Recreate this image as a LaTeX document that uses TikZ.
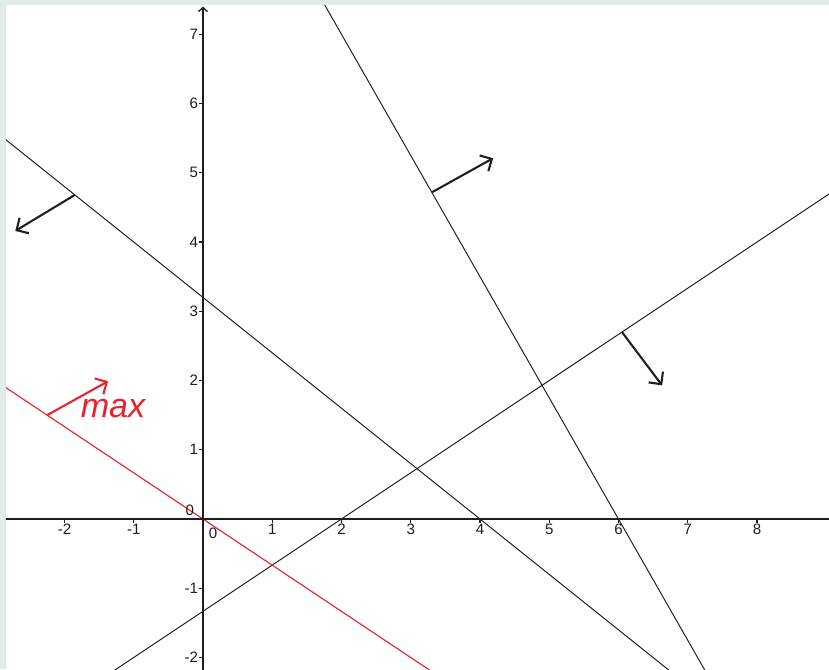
\documentclass[tikz,border=0pt]{standalone}
\usepackage{fontspec}
\setmainfont{Liberation Sans}
\usetikzlibrary{arrows.meta}
\definecolor{PlotRed}{RGB}{236, 32, 44}
\definecolor{PlotFrame}{RGB}{227, 235, 233}
\definecolor{PlotInk}{RGB}{30, 30, 30}

\begin{document}
\begin{tikzpicture}[
    axis/.style={draw=PlotInk, line width=0.55pt},
    bound/.style={draw=PlotInk, line width=0.4pt},
    normal/.style={draw=PlotInk, line width=0.85pt, -{Straight Barb[length=1.3mm, width=2.6mm]}},
    ticklabel/.style={font=\fontsize{6.2}{7}\selectfont, text=PlotInk, inner sep=0pt}
  ]
    % frame and white plot area
    \fill[PlotFrame] (-2.931,-2.166) rectangle (9.040,7.495);
    \fill[white] (-2.845,-2.166) rectangle (9.040,7.422);
    \useasboundingbox (-2.931,-2.166) rectangle (9.040,7.495);

    \begin{scope}
      \clip (-2.845,-2.166) rectangle (9.040,7.422);
      % constraint lines
      \coordinate (ab) at (-3,-3.333);  \coordinate (ae) at (10,5.333);
      \coordinate (bb) at (-3,5.6);     \coordinate (be) at (8,-3.2);
      \coordinate (cb) at (1.5,7.875);  \coordinate (ce) at (7.5,-2.625);
      \coordinate (rb) at (-3,2);       \coordinate (re) at (3.5,-2.333);
      \draw[bound] (ab) -- (ae);
      \draw[bound] (bb) -- (be);
      \draw[bound] (cb) -- (ce);
      \draw[draw=PlotRed, line width=0.45pt] (rb) -- (re);

      % axes
      \draw[axis] (-2.9,0) -- (9.1,0);
      \draw[axis, -{Straight Barb[length=0.6mm, width=1.3mm]}] (0,-2.3) -- (0,7.40);
    \end{scope}

    % ticks and labels
    \foreach \x in {-2,-1,1,2,3,4,5,6,7,8}
      \draw[axis] (\x,0) -- (\x,-0.06) node[ticklabel, below=0.09] {\x};
    \foreach \y in {-2,-1,1,2,3,4,5,6,7}
      \draw[axis] (0,\y) -- (-0.06,\y) node[ticklabel, left=0.07] {\y};
    \node[ticklabel] (ylabzero) at (-0.19,0.12) {0};
    \node[ticklabel] (xlabzero) at (0.145,-0.2) {0};

    % direction arrows
    \coordinate (na) at (6.05,2.70);   \coordinate (nah) at (6.63,1.93);
    \coordinate (nb) at (-1.85,4.68);  \coordinate (nbh) at (-2.71,4.16);
    \coordinate (nc) at (3.31,4.72);   \coordinate (nch) at (4.19,5.21);
    \coordinate (nr) at (-2.25,1.50);  \coordinate (nrh) at (-1.37,1.99);
    \draw[normal] (na) -- (nah);
    \draw[normal] (nb) -- (nbh);
    \draw[normal] (nc) -- (nch);
    \draw[normal, draw=PlotRed] (nr) -- (nrh);
    \node[text=PlotRed, font=\fontsize{14}{16}\selectfont\itshape, inner sep=0pt] (maxlabel) at (-1.30,1.60) {max};
  \end{tikzpicture}
\end{document}
